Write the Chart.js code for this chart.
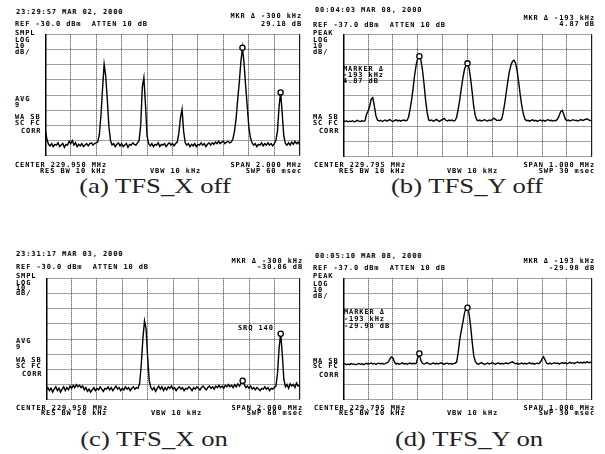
<!DOCTYPE html>
<html lang="en">

<head>
    <meta charset="UTF-8">
    <script src="https://cdn.jsdelivr.net/npm/chart.js"></script>
    <title>TFS spectra</title>
    <style>
        body {
            margin: 0;
            background-color: #fff;
        }

        #page {
            position: relative;
            width: 605px;
            height: 454px;
            overflow: hidden;
        }

        #page canvas {
            position: absolute;
        }

        .t {
            position: absolute;
            font: bold 7px 'DejaVu Sans Mono', monospace;
            letter-spacing: 0.9px;
            line-height: 7px;
            white-space: pre;
            color: #000;
        }

        .cap {
            position: absolute;
            font: 21px 'Liberation Serif', serif;
            white-space: pre;
            color: #222;
            transform: translate(-50%, -50%) scaleX(1.27);
        }
    </style>
</head>

<body>
    <div id="page"></div>
    <script>
        // sweep settings
        const refX = -30.0;     // dBm, panels a and c
        const refY = -37.0;     // dBm, panels b and d
        const centerX = 229.950, spanX = 2.0;   // MHz
        const centerY = 229.795, spanY = 1.0;   // MHz

        // trace levels in dBm, 161 sweep points each
        const traceA = [
            -93, -99, -102.5, -103.5, -102, -104, -102.5, -103, -101.5, -104,
            -103, -102, -104.5, -102.5, -103, -100.5, -102, -100, -103, -101.5,
            -104, -102.5, -103.5, -102, -104, -103, -102, -103.5, -102, -101.5,
            -103, -102, -101.5, -101, -96, -83.5, -65.8, -49.8, -57.5, -73,
            -90.8, -100, -103, -102, -104, -102.5, -101.5, -103.5, -102, -104,
            -103, -102, -104.5, -102.5, -103, -101.5, -102.5, -103, -101.5, -100,
            -90, -65, -58.5, -76, -97, -102, -103.5, -102, -104, -102.5,
            -103, -101.5, -104, -102.5, -103, -102, -104, -102.5, -101.5, -103,
            -102, -103.5, -102, -101, -95, -85, -79.4, -94, -101.5, -103,
            -102, -104, -102.5, -103.5, -102, -104, -102.5, -103, -101.5, -103,
            -102, -104, -102.5, -101.5, -103, -101.5, -102.5, -101, -102, -100.5,
            -102, -101, -100.5, -102, -101, -100.5, -101.5, -101, -99, -94,
            -85.6, -73, -61.7, -48, -38.8, -49, -63.8, -77.3, -90.8, -98,
            -101.5, -103, -102, -104, -102.5, -103, -101.5, -103.5, -102, -103,
            -101.5, -103, -102, -103.5, -102, -100, -94, -78, -68.3, -82,
            -97, -102, -103, -101.5, -103, -101, -102.5, -100.5, -102, -101,
            -103
        ];
        const traceB = [
            -93.5, -94, -93.5, -94.2, -93.8, -94, -93.5, -94.3, -93.8, -93.2,
            -93.8, -94, -93.5, -93.9, -93.5, -89.2, -87.1, -84, -79.4, -78.4,
            -84, -90.2, -93, -93.6, -93.2, -94, -93.5, -93, -93.8, -93.3,
            -92.8, -93.5, -94, -93.4, -92.9, -93.6, -93.2, -93.8, -93.3, -93,
            -93.5, -93.3, -91.2, -86, -79.9, -72, -63.3, -56.7, -52.5, -51.3,
            -54, -60.2, -69.5, -79.9, -88, -93, -93.5, -93, -93.8, -93.2,
            -92.6, -93.4, -93.9, -93.1, -92.7, -92, -93.2, -93.7, -93.1, -93.5,
            -93, -93.6, -93.3, -91.2, -86, -79.9, -72.6, -65.8, -60.2, -57.1,
            -56, -59.2, -65.8, -74.7, -84, -90.2, -93, -93.5, -93.1, -93.7,
            -93.2, -92.8, -93.4, -93.6, -93, -93.5, -92.5, -91.8, -92.6, -93.4,
            -93.1, -93.3, -92.4, -88.1, -82, -74.7, -67.4, -61.2, -57.1, -54.6,
            -54, -56, -61.2, -68.5, -76.8, -84, -89.2, -92.4, -93.5, -93.2,
            -93.8, -93.3, -92.9, -93.6, -93.2, -93.9, -93.4, -93, -93.6, -93.2,
            -93.8, -93.1, -92.8, -93.5, -93.2, -93.7, -93.3, -93.5, -92.4, -90.2,
            -87.5, -86.7, -89.2, -92.4, -93.5, -93.1, -93.6, -93.2, -92.8, -93.4,
            -93.1, -93.7, -93.2, -92.7, -93.3, -93, -92.6, -92.2, -93, -93.4,
            -93.2
        ];
        const traceC = [
            -103.5, -102, -104, -102.5, -105, -103, -101.5, -104, -102.5, -105,
            -103, -101.5, -104, -102, -103.5, -101, -102.5, -100.5, -102, -100,
            -101.5, -100.5, -102, -101, -103.5, -102, -104.5, -103, -105, -103.5,
            -102, -104, -102.5, -103.5, -101.5, -103, -104.5, -102.5, -103, -101.5,
            -103.5, -102, -104, -102.5, -101, -103, -102, -104, -102.5, -103.5,
            -101.5, -103, -102, -104, -102.5, -101.5, -103, -102, -102.5, -98.8,
            -86.3, -69.6, -58.1, -63.3, -82, -97.7, -102, -103.5, -102, -104.5,
            -102.5, -101, -103, -101.5, -104, -102, -103.5, -101.5, -102.5, -101,
            -103, -102, -104, -102.5, -101.5, -103, -102, -104, -102.5, -103,
            -101.5, -102.5, -104, -102, -103, -101.5, -102.5, -103.5, -102, -101,
            -102.5, -103.5, -102, -101, -102.5, -101.5, -103, -101, -102, -100.5,
            -102, -101, -102.5, -100.5, -101.5, -100, -101.5, -100.5, -102, -100,
            -101.5, -99.5, -101, -99, -97.5, -100, -102, -101, -102.5, -101,
            -103, -102, -103.5, -102, -103, -104, -102.5, -103, -101.5, -103,
            -102, -104, -102.5, -103, -102, -101, -92.5, -75.8, -66.5, -80,
            -96.7, -101.5, -100, -102.5, -99.5, -101, -100, -102, -99, -101,
            -100.5
        ];
        const traceD = [
            -93.8, -93.3, -94, -93.5, -93.9, -93.2, -93.7, -93.4, -94, -93.5,
            -93.1, -93.7, -93.3, -93.9, -93.4, -93, -93.6, -93.2, -92.8, -93.5,
            -93.1, -93.7, -93.2, -92.9, -93.4, -93, -93.5, -93.2, -92.8, -92.2,
            -90.1, -88.8, -89.6, -92.2, -93.5, -93, -93.6, -93.2, -92.7, -93.4,
            -93.1, -93.6, -93.2, -92.8, -93.4, -93, -93.3, -93, -89.3, -86.6,
            -91.2, -93, -93.5, -93.1, -92.6, -93.3, -93.7, -93.2, -92.8, -93.4,
            -93, -93.5, -93.1, -92.7, -93.3, -93.6, -93.1, -92.9, -93.4, -93.1,
            -93.6, -93.2, -93, -92.2, -86, -77.6, -71.4, -66.2, -60.3, -56.8,
            -56.4, -60.3, -68.3, -78.7, -88, -91.7, -93.3, -93.6, -93.1, -92.6,
            -93.3, -93.8, -93.2, -92.9, -93.5, -93.1, -92.5, -93.2, -93.6, -93.1,
            -92.8, -93.4, -93, -93.5, -93.1, -92.8, -93.3, -92.9, -92.4, -92,
            -92.7, -93.3, -93, -93.6, -93.2, -92.8, -93.4, -93, -93.5, -93.1,
            -92.7, -93.3, -93, -93.6, -93.2, -92.9, -93.3, -92.2, -90.1, -88.8,
            -90.8, -93, -93.4, -92.9, -93.5, -93.1, -92.6, -93.2, -92.8, -93.4,
            -93, -92.5, -93.1, -92.7, -93.3, -92.9, -92.4, -93, -92.6, -93.2,
            -92.5, -92.1, -92.8, -92.3, -92.9, -92.2, -92.7, -92, -92.6, -92.3,
            -92.8
        ];

        // sweep point indices of the two markers
        const markersA = [124, 148];
        const markersB = [49, 80];
        const markersC = [148, 124];
        const markersD = [80, 49];

        const captions = ["(a) TFS_X off", "(b) TFS_Y off", "(c) TFS_X on", "(d) TFS_Y on"];

        // panel layout: plot box [left, top, right, bottom], caption centre
        const panels = [
            {trace: traceA, markers: markersA, ref: refX, center: centerX, span: spanX, box: [42, 31, 303, 159], cap: [154.5, 186]},
            {trace: traceB, markers: markersB, ref: refY, center: centerY, span: spanY, box: [340, 31, 595, 160], cap: [467, 186]},
            {trace: traceC, markers: markersC, ref: refX, center: centerX, span: spanX, box: [43, 275, 303, 403], cap: [153.5, 439]},
            {trace: traceD, markers: markersD, ref: refY, center: centerY, span: spanY, box: [340, 275, 595, 403], cap: [469, 439]}
        ];

        // screen annotations: text, x, y (centre of line), right aligned
        const texts = [
            ["23:29:57 MAR 02, 2000", 16, 12.5], ["REF -30.0 dBm  ATTEN 10 dB", 15, 24],
            ["MKR \u0394 -300 kHz", 302, 16, 1], ["29.18 dB", 302, 24, 1],
            ["SMPL", 15, 33], ["LOG", 15, 40], ["10", 15, 46], ["dB/", 15, 52],
            ["AVG", 15, 99], ["9", 15, 105], ["WA SB", 15, 117.5], ["SC FC", 15, 123.5], ["CORR", 21, 131],
            ["CENTER 229.950 MHz", 15, 165], ["RES BW 10 kHz", 40, 171], ["VBW 10 kHz", 150, 171],
            ["SPAN 2.000 MHz", 302, 165, 1], ["SWP 60 msec", 302, 171, 1],

            ["00:04:03 MAR 08, 2000", 315, 10.5], ["REF -37.0 dBm  ATTEN 10 dB", 313, 25],
            ["MKR \u0394 -193 kHz", 595, 18, 1], ["4.87 dB", 595, 24.5, 1],
            ["PEAK", 313, 33], ["LOG", 313, 40.5], ["10", 313, 46], ["dB/", 313, 52],
            ["MARKER \u0394", 343, 69], ["-193 kHz", 343, 75], ["4.87 dB", 343, 81],
            ["MA SB", 313, 117.5], ["SC FC", 313, 123], ["CORR", 319, 131],
            ["CENTER 229.795 MHz", 314, 165], ["RES BW 10 kHz", 339, 171], ["VBW 10 kHz", 447, 171],
            ["SPAN 1.000 MHz", 595, 165, 1], ["SWP 30 msec", 595, 171, 1],

            ["23:31:17 MAR 03, 2000", 16, 254.5], ["REF -30.0 dBm  ATTEN 10 dB", 16, 267],
            ["MKR \u0394 -300 kHz", 303, 261.5, 1], ["-30.06 dB", 303, 267.5, 1],
            ["SMPL", 16, 276.5], ["LOG", 16, 283], ["10", 16, 288.5], ["dB/", 16, 293.5],
            ["AVG", 16, 341.5], ["9", 16, 347.5], ["WA SB", 16, 360.5], ["SC FC", 16, 366], ["CORR", 22, 374],
            ["SRQ 140", 238, 328],
            ["CENTER 229.950 MHz", 16, 408.5], ["RES BW 10 kHz", 41, 413.5], ["VBW 10 kHz", 151, 413.5],
            ["SPAN 2.000 MHz", 303, 408.5, 1], ["SWP 60 msec", 303, 413.5, 1],

            ["00:05:10 MAR 08, 2000", 315, 256.5], ["REF -37.0 dBm  ATTEN 10 dB", 313, 268],
            ["MKR \u0394 -193 kHz", 595, 261.5, 1], ["-29.98 dB", 595, 268, 1],
            ["PEAK", 313, 276.5], ["LOG", 313, 284], ["10", 313, 290], ["dB/", 313, 296],
            ["MARKER \u0394", 344, 312], ["-193 kHz", 344, 319], ["-29.98 dB", 344, 326],
            ["MA SB", 313, 361], ["SC FC", 313, 366.5], ["CORR", 319, 375],
            ["CENTER 229.795 MHz", 314, 408.5], ["RES BW 10 kHz", 339, 413.5], ["VBW 10 kHz", 447, 413.5],
            ["SPAN 1.000 MHz", 595, 408.5, 1], ["SWP 30 msec", 595, 413.5, 1]
        ];

        const page = document.getElementById("page");

        // solid right edge of the graticule
        const rightEdge = {
            id: "rightEdge",
            afterDraw(chart) {
                const ctx = chart.ctx;
                const a = chart.chartArea;
                ctx.save();
                ctx.strokeStyle = "#000";
                ctx.lineWidth = 1;
                ctx.beginPath();
                ctx.moveTo(a.right, a.top);
                ctx.lineTo(a.right, a.bottom);
                ctx.stroke();
                ctx.restore();
            }
        };

        function makeChart(p) {
            const pad = 2;
            const canvas = document.createElement("canvas");
            canvas.width = p.box[2] - p.box[0] + 2 * pad;
            canvas.height = p.box[3] - p.box[1] + 2 * pad;
            canvas.style.left = (p.box[0] - pad) + "px";
            canvas.style.top = (p.box[1] - pad) + "px";
            page.appendChild(canvas);

            const start = p.center - p.span / 2;
            const step = p.span / (p.trace.length - 1);
            const points = p.trace.map((v, i) => ({x: start + i * step, y: v}));
            const marks = p.markers.map(i => points[i]);

            // 10 x 8 graticule, 10 dB/div
            let xGrid = [];
            for (let k = 0; k <= 10; k++) {
                xGrid.push(start + k * p.span / 10);
            }
            let yGrid = [];
            for (let k = 0; k <= 8; k++) {
                yGrid.push(p.ref - k * 10);
            }

            return new Chart(canvas, {
                type: "line",
                data: {
                    datasets: [{
                        data: marks,
                        showLine: false,
                        pointRadius: 2.6,
                        pointBackgroundColor: "#fff",
                        pointBorderColor: "#000",
                        pointBorderWidth: 1.3
                    }, {
                        data: points,
                        borderColor: "#000",
                        borderWidth: 1.4,
                        pointRadius: 0,
                        tension: 0
                    }]
                },
                options: {
                    responsive: false,
                    animation: false,
                    devicePixelRatio: 1,
                    layout: {padding: pad},
                    plugins: {legend: {display: false}, tooltip: {enabled: false}},
                    scales: {
                        x: {
                            type: "linear",
                            min: start,
                            max: start + p.span,
                            ticks: {display: false},
                            grid: {color: "#333", lineWidth: 1, drawTicks: false},
                            border: {display: false, dash: [1, 1]},
                            afterBuildTicks: s => { s.ticks = xGrid.map(v => ({value: v})); }
                        },
                        y: {
                            type: "linear",
                            min: p.ref - 80,
                            max: p.ref,
                            ticks: {display: false},
                            grid: {color: "#444", lineWidth: 1, drawTicks: false},
                            border: {display: true, color: "#000", width: 1.5, dash: [1, 1]},
                            afterBuildTicks: s => { s.ticks = yGrid.map(v => ({value: v})); }
                        }
                    }
                },
                plugins: [rightEdge]
            });
        }

        panels.forEach((p, n) => {
            makeChart(p);
            let c = document.createElement("div");
            c.className = "cap";
            c.textContent = captions[n];
            c.style.left = p.cap[0] + "px";
            c.style.top = p.cap[1] + "px";
            page.appendChild(c);
        });

        texts.forEach(t => {
            let d = document.createElement("div");
            d.className = "t";
            d.textContent = t[0];
            d.style.top = (t[2] - 3.5) + "px";
            if (t[3]) {
                d.style.right = (605 - t[1]) + "px";
            } else {
                d.style.left = t[1] + "px";
            }
            page.appendChild(d);
        });
    </script>
</body>

</html>
